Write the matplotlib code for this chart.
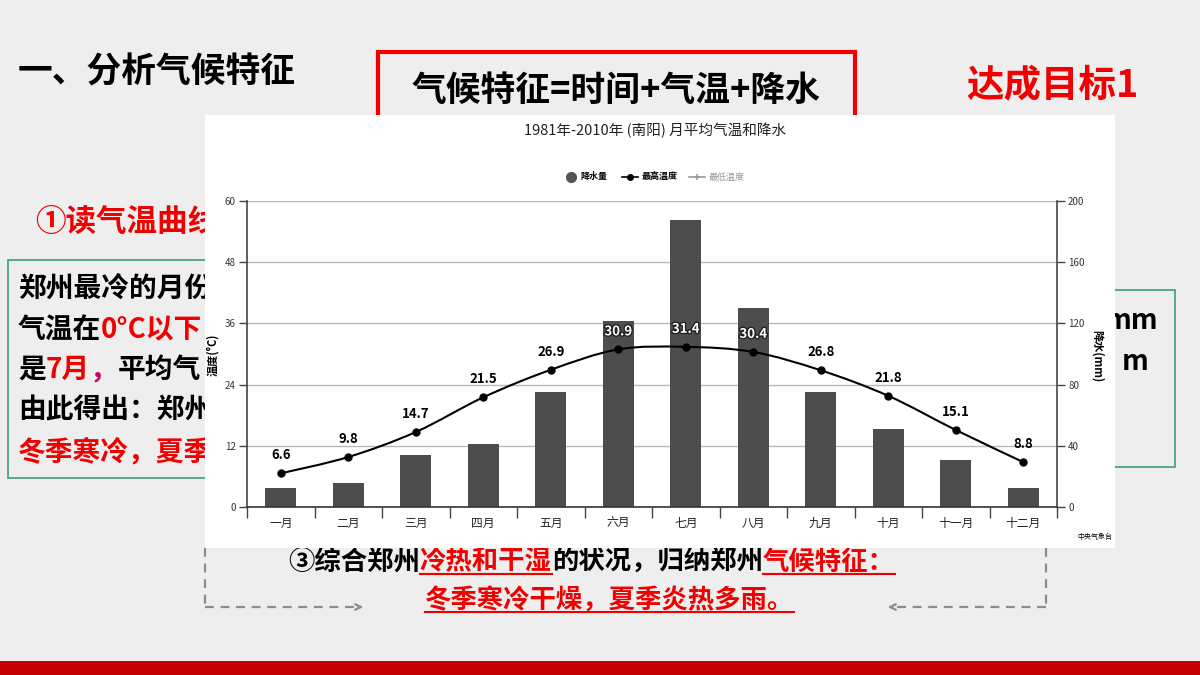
import matplotlib
matplotlib.use('Agg')
import matplotlib.pyplot as plt
import matplotlib.patheffects as pe
from matplotlib.patches import Rectangle, PathPatch
from matplotlib.path import Path
import numpy as np

plt.rcParams['font.family'] = ['Noto Sans CJK SC', 'DejaVu Sans']

# 数据 (南阳 1981-2010)
months = ['一月', '二月', '三月', '四月', '五月', '六月',
          '七月', '八月', '九月', '十月', '十一月', '十二月']
precip = [12.4, 15.7, 34, 41, 75, 121.6, 187.6, 130, 75, 51, 30.7, 12.4]
tmax = [6.6, 9.8, 14.7, 21.5, 26.9, 30.9, 31.4, 30.4, 26.8, 21.8, 15.1, 8.8]

RED = '#f00000'
fig = plt.figure(figsize=(12, 6.75), dpi=100)
fig.patch.set_facecolor('#eeeeee')

# 背景层, 用像素坐标
bg = fig.add_axes([0, 0, 1, 1])
bg.set_xlim(0, 1200)
bg.set_ylim(675, 0)
bg.axis('off')
bg.set_zorder(0)


def seg_line(x, y, parts, size):
    prev = None
    arts = []
    for s, c in parts:
        if prev is None:
            t = bg.text(x, y, s, color=c, fontsize=size, fontweight='bold',
                        va='center', ha='left', zorder=3)
        else:
            t = bg.annotate(s, xy=(1, 0), xycoords=prev, va='bottom', ha='left',
                            color=c, fontsize=size, fontweight='bold', zorder=3)
        arts.append(t)
        prev = t
    return arts


# 标题等
bg.text(18, 72, '一、分析气候特征', fontsize=25, fontweight='bold', va='center', zorder=3)
bg.add_patch(Rectangle((378, 52), 477, 100, fill=False, edgecolor=RED, lw=3, zorder=2))
bg.text(616, 90, '气候特征=时间+气温+降水', fontsize=25, fontweight='bold',
        ha='center', va='center', zorder=3)
bg.text(1052, 85, '达成目标1', fontsize=27, fontweight='bold', color=RED,
        ha='center', va='center', zorder=3)
bg.text(35, 222, '①读气温曲线', fontsize=22, fontweight='bold', color=RED,
        va='center', zorder=3)

# 左侧绿框 (被图表遮住一部分)
bg.add_patch(Rectangle((8, 260), 250, 218, fill=False, edgecolor='#3a9e78', lw=1.2, zorder=2))
seg_line(18, 289, [('郑州最冷的月份', 'black')], 20)
seg_line(18, 330, [('气温在', 'black'), ('0°C以下', RED)], 20)
seg_line(18, 370, [('是', 'black'), ('7月', RED), ('，', '#cc0066'), ('平均气', 'black')], 20)
seg_line(18, 411, [('由此得出：郑州', 'black')], 20)
seg_line(18, 452, [('冬季寒冷，夏季', RED)], 20)

# 右侧绿框
bg.add_patch(Rectangle((1080, 290), 95, 177, fill=False, edgecolor='#3a9e78', lw=1.2, zorder=2))
bg.text(1158, 321, 'mm', fontsize=20, fontweight='bold', ha='right', va='center', zorder=3)
bg.text(1148, 362, 'm', fontsize=20, fontweight='bold', ha='right', va='center', zorder=3)

# 底部文字
l1 = seg_line(288, 562, [('③综合郑州', 'black'), ('冷热和干湿', RED),
                         ('的状况，归纳郑州', 'black'), ('气候特征：', RED)], 19)
l2 = seg_line(425, 600, [('冬季寒冷干燥，夏季炎热多雨。', RED)], 19)

# 虚线箭头
dash = dict(color='#8c8c8c', lw=1.6, ls=(0, (4, 3)), zorder=3)
bg.plot([205, 205], [548, 607], **dash)
bg.plot([205, 358], [607, 607], **dash)
bg.annotate('', xy=(366, 607), xytext=(356, 607),
            arrowprops=dict(arrowstyle='->', color='#8c8c8c', lw=1.6), zorder=3)
bg.plot([1046, 1046], [548, 607], **dash)
bg.plot([1046, 893], [607, 607], **dash)
bg.annotate('', xy=(885, 607), xytext=(895, 607),
            arrowprops=dict(arrowstyle='->', color='#8c8c8c', lw=1.6), zorder=3)

# 底部红条
bg.add_patch(Rectangle((0, 661), 1200, 14, facecolor='#c40000', edgecolor='none', zorder=2))

# 白色图表底板
bg.add_patch(Rectangle((205, 115), 910, 433, facecolor='white', edgecolor='none', zorder=10))
bg.text(655, 130, '1981年-2010年 (南阳) 月平均气温和降水', fontsize=10.5,
        ha='center', va='center', color='#222', zorder=11)

# 图例
bg.plot([571], [177], 'o', ms=7, color='#555555', zorder=11)
bg.text(580, 177, '降水量', fontsize=6.5, fontweight='bold', va='center', zorder=11)
bg.plot([622, 638], [177, 177], '-', color='black', lw=1.2, zorder=11)
bg.plot([630], [177], 'o', ms=4, color='black', zorder=11)
bg.text(642, 177, '最高温度', fontsize=6.5, fontweight='bold', va='center', zorder=11)
bg.plot([689, 705], [177, 177], '-', color='#999999', lw=1.2, zorder=11)
bg.plot([697], [177], '+', ms=5, mew=1.2, color='#999999', zorder=11)
bg.text(709, 177, '最低温度', fontsize=6.5, color='#999999', va='center', zorder=11)

bg.text(213, 355, '温度(°C)', rotation=90, fontsize=8, fontweight='bold',
        ha='center', va='center', zorder=11)
bg.text(1097, 356, '降水(mm)', rotation=270, fontsize=8, fontweight='bold',
        ha='center', va='center', zorder=11)
bg.text(1095, 537, '中央气象台', fontsize=5, ha='center', va='center', zorder=11)

# 图表
ax = fig.add_axes([247 / 1200, 1 - 507 / 675, 810 / 1200, 306 / 675])
ax2 = ax.twinx()
ax2.set_zorder(1)
ax.set_zorder(2)
ax.patch.set_visible(False)
ax2.patch.set_visible(False)

x = np.arange(len(months))
ax2.bar(x, precip, width=0.46, color='#4d4d4d', zorder=2)
ax2.set_ylim(0, 200)
ax2.set_yticks(range(0, 201, 40))
ax2.grid(axis='y', color='#b8b8b8', lw=1)
ax2.set_axisbelow(True)

# 平滑曲线 (Catmull-Rom -> Bezier)
pts = np.column_stack([x, tmax]).astype(float)
ext = np.vstack([pts[0], pts, pts[-1]])
verts = [tuple(pts[0])]
codes = [Path.MOVETO]
for i in range(len(pts) - 1):
    p0, p1, p2, p3 = ext[i], ext[i + 1], ext[i + 2], ext[i + 3]
    c1 = p1 + (p2 - p0) / 6
    c2 = p2 - (p3 - p1) / 6
    verts += [tuple(c1), tuple(c2), tuple(p2)]
    codes += [Path.CURVE4] * 3
ax.add_patch(PathPatch(Path(verts, codes), facecolor='none', edgecolor='black', lw=1.5, zorder=3))
ax.plot(x, tmax, 'o', color='black', ms=5, zorder=4)

for i, v in enumerate(tmax):
    if i in (5, 6, 7):
        ax.annotate(f'{v}', (i, v), xytext=(0, 13), textcoords='offset points',
                    ha='center', va='center', fontsize=9.5, fontweight='bold', color='white',
                    path_effects=[pe.withStroke(linewidth=2, foreground='#222222')], zorder=5)
    else:
        ax.annotate(f'{v}', (i, v), xytext=(0, 13), textcoords='offset points',
                    ha='center', va='center', fontsize=9.5, fontweight='bold', color='black', zorder=5)

ax.set_xlim(-0.5, 11.5)
ax.set_ylim(0, 60)
ax.set_yticks(range(0, 61, 12))
ax.set_xticks(x)
ax.set_xticklabels(months, fontsize=8.5, color='#222')
ax.set_xticks(np.arange(-0.5, 12, 1), minor=True)
ax.tick_params(axis='x', which='major', length=0, pad=7)
ax.tick_params(axis='x', which='minor', length=8, width=1, color='#444')
ax.tick_params(axis='y', length=6, width=1, color='#444', labelsize=7, pad=2, labelcolor='#333')
ax2.tick_params(axis='y', length=6, width=1, color='#444', labelsize=7, pad=2, labelcolor='#333')

for s in ['top', 'right']:
    ax.spines[s].set_visible(False)
for s in ['top', 'left', 'bottom']:
    ax2.spines[s].set_visible(False)
ax.spines['left'].set_color('#444')
ax.spines['left'].set_linewidth(1.2)
ax.spines['bottom'].set_color('#333')
ax.spines['bottom'].set_linewidth(1.2)
ax2.spines['right'].set_color('#444')
ax2.spines['right'].set_linewidth(1.2)

# 下划线
fig.canvas.draw()
inv = bg.transData.inverted()
for t in [l1[1], l1[3], l2[0]]:
    bb = t.get_window_extent()
    (x0, y0), (x1, _) = inv.transform([(bb.x0, bb.y0), (bb.x1, bb.y0)])
    bg.plot([x0, x1], [y0 - 2, y0 - 2], color=RED, lw=1.5, zorder=3)

fig.savefig('out.png', dpi=100, facecolor=fig.get_facecolor())
